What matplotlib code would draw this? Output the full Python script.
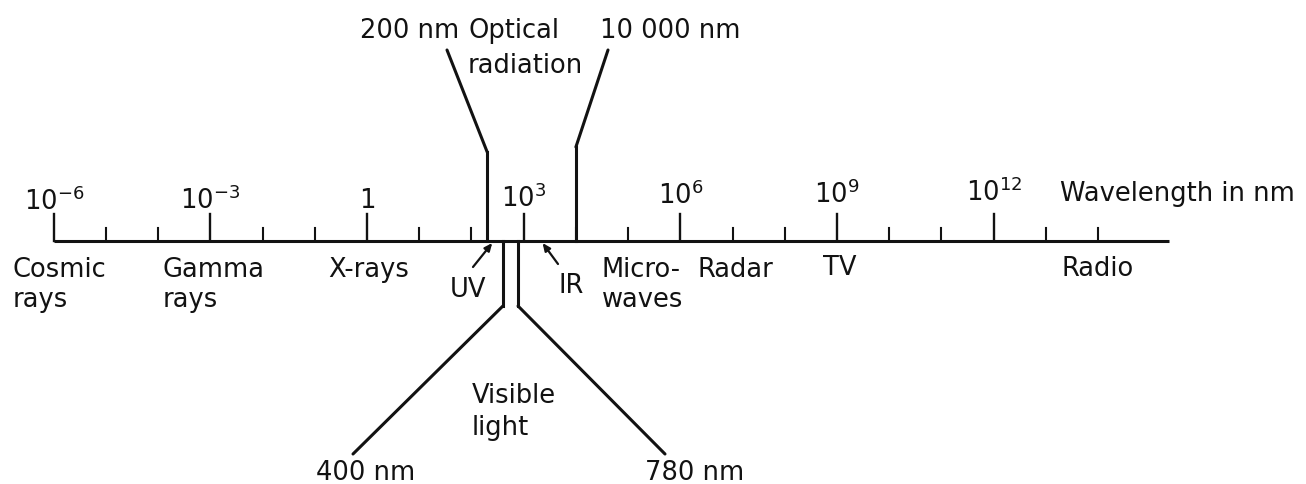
import matplotlib
matplotlib.use("Agg")
import matplotlib.pyplot as plt

# ---------------- data ----------------
major_exp = [-6, -3, 0, 3, 6, 9, 12]
major_labels = ['10$^{-6}$', '10$^{-3}$', '1', '10$^{3}$', '10$^{6}$', '10$^{9}$', '10$^{12}$']
minor_exp = [e for e in range(-5, 15) if e not in major_exp]
axis_start_nm = 1e-6
axis_end_nm = 2.3e15
axis_title = 'Wavelength in nm'

band_names = ['Cosmic\nrays', 'Gamma\nrays', 'X-rays', 'Micro-\nwaves', 'Radar', 'TV', 'Radio']

optical_bounds_nm = [200, 10000]
optical_bound_labels = ['200 nm', '10 000 nm']
optical_name = 'Optical\nradiation'

visible_bounds_nm = [400, 780]
visible_bound_labels = ['400 nm', '780 nm']
visible_name = 'Visible\nlight'

arrow_names = ['UV', 'IR']
arrow_targets_nm = [250, 2300]

# ---------------- layout ----------------
W, H = 1306, 485
X0, DEC = 53.7, 52.22          # pixel of 1e-6 nm, pixels per decade
AXIS_Y = 242
MAJ_LEN, MIN_LEN = 27, 13
FS = 18.5
INK = '#121212'

plt.rcParams['font.family'] = ['DejaVu Sans']
plt.rcParams['mathtext.fontset'] = 'dejavusans'

fig = plt.figure(figsize=(W / 100, H / 100), dpi=100)
ax = fig.add_axes([0, 0, 1, 1])
ax.set_xscale('log')
ax.set_xlim(10 ** (-6 - X0 / DEC), 10 ** (-6 + (W - X0) / DEC))
ax.set_ylim(H, 0)
ax.axis('off')

ov = fig.add_axes([0, 0, 1, 1], facecolor='none')
ov.set_xlim(0, W)
ov.set_ylim(H, 0)
ov.axis('off')

def txt(s, x, y, ha='left', ls=31, fs=FS):
    for i, line in enumerate(s.split('\n')):
        ov.text(x, y + i * ls, line, ha=ha, va='baseline', fontsize=fs, color=INK)

# main axis line
ax.plot([axis_start_nm, axis_end_nm], [AXIS_Y, AXIS_Y], color=INK, lw=2.2,
        solid_capstyle='butt')
label_base = [210, 209, 208, 207, 204, 203, 201]
for e, lab, yb in zip(major_exp, major_labels, label_base):
    ax.plot([10.0 ** e, 10.0 ** e], [AXIS_Y, AXIS_Y - MAJ_LEN], color=INK, lw=1.7)
    ax.text(10.0 ** e, yb, lab, ha='center', va='baseline', fontsize=FS, color=INK)
for e in minor_exp:
    ax.plot([10.0 ** e, 10.0 ** e], [AXIS_Y, AXIS_Y - MIN_LEN], color=INK, lw=1.5)

txt(axis_title, 1060, 201)

# band names under the axis
band_pos = [(13, 277), (163, 277), (328, 277), (602, 277), (698, 277), (823, 275), (1062, 276)]
for name, (px, py) in zip(band_names, band_pos):
    txt(name, px, py, ls=30)

# optical radiation leaders
opt_top = [153, 148]
opt_end = [(447, 51), (608, 51)]
for b, yt, end in zip(optical_bounds_nm, opt_top, opt_end):
    ax.plot([b, b], [AXIS_Y, yt], color=INK, lw=2.2)
    ax.annotate('', xy=(b, yt), xycoords='data', xytext=end, textcoords=ov.transData,
                arrowprops=dict(arrowstyle='-', lw=2.2, color=INK, shrinkA=0, shrinkB=0))
txt(optical_bound_labels[0], 410, 38, ha='center')
txt(optical_bound_labels[1], 670, 38, ha='center')
txt(optical_name, 468, 38, ls=35)

# visible light leaders
vis_bot = 307
vis_end = [(353, 455), (665, 455)]
for b, end in zip(visible_bounds_nm, vis_end):
    ax.plot([b, b], [AXIS_Y, vis_bot], color=INK, lw=2.2)
    ax.annotate('', xy=(b, vis_bot), xycoords='data', xytext=end, textcoords=ov.transData,
                arrowprops=dict(arrowstyle='-', lw=2.2, color=INK, shrinkA=0, shrinkB=0))
txt(visible_bound_labels[0], 366, 480, ha='center')
txt(visible_bound_labels[1], 695, 480, ha='center')
txt(visible_name, 472, 403, ls=32)

# UV / IR arrows
arrow_tail = [(473, 268), (558, 265)]
arrow_text = [(468, 297), (571, 293)]
for name, tgt, tail, (tx, ty) in zip(arrow_names, arrow_targets_nm, arrow_tail, arrow_text):
    ax.annotate('', xy=(tgt, AXIS_Y + 2), xycoords='data', xytext=tail, textcoords=ov.transData,
                arrowprops=dict(arrowstyle='-|>,head_length=0.45,head_width=0.2', lw=1.6,
                                color=INK, shrinkA=0, shrinkB=0))
    txt(name, tx, ty, ha='center')

fig.savefig('out.png', dpi=100, facecolor='white')
